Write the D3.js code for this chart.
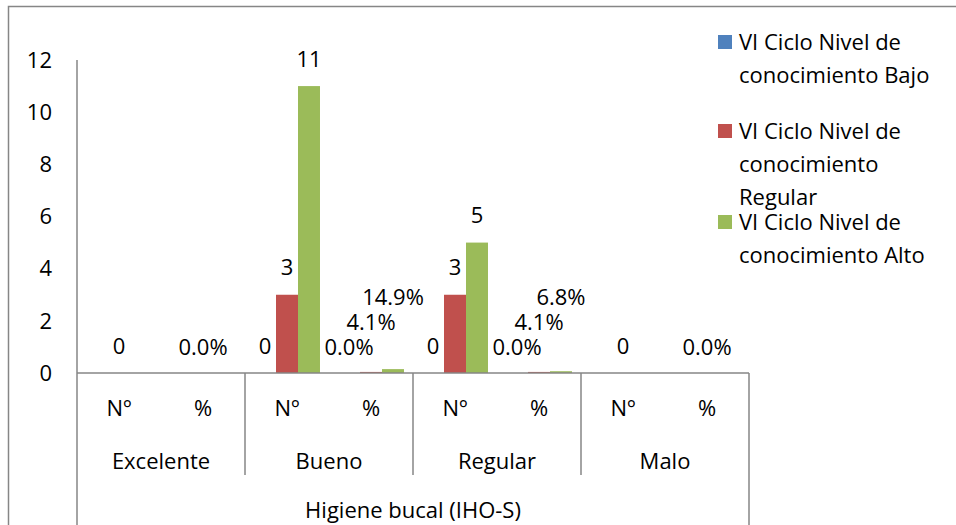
<!DOCTYPE html>
<html>
<head>
<meta charset="utf-8">
<script src="https://cdn.jsdelivr.net/npm/d3@7"></script>
<style>
  body { margin: 0; background: #fff; }
  svg { display: block; font-family: "Open Sans", sans-serif; }
</style>
</head>
<body>
<div id="chart"></div>
<script>
// chart values
const groups = ["Excelente", "Bueno", "Regular", "Malo"];
const subcats = ["Nº", "%"];
const outerLabel = "Higiene bucal (IHO-S)";
const seriesNames = [
  "VI Ciclo Nivel de conocimiento Bajo",
  "VI Ciclo Nivel de conocimiento Regular",
  "VI Ciclo Nivel de conocimiento Alto"
];
const bajo    = [null, null, 0, 0,     0, 0,     null, null];
const regular = [0,    0,    3, 0.041, 3, 0.041, 0,    0];
const alto    = [null, null, 11, 0.149, 5, 0.068, null, null];
const yTicks = [0, 2, 4, 6, 8, 10, 12];
const colors = ["#4F81BD", "#C0504D", "#9BBB59"];

function drawChart() {
  const width = 956, height = 525;
  const left = 77, right = 749, top = 60, base = 373;

  const svg = d3.select("div#chart")
    .append("svg")
    .attr("width", width)
    .attr("height", height)
    .style("font-size", "22px");

  // outer chart border
  svg.append("path")
    .attr("d", `M8.5,${height} V6.5 H${width}`)
    .attr("fill", "none")
    .attr("stroke", "#868686")
    .attr("stroke-width", 1.5);

  const cats = [];
  groups.forEach(g => subcats.forEach(s => cats.push(g + "|" + s)));
  const series = [bajo, regular, alto];

  const x0 = d3.scaleBand().domain(cats).range([left, right]);
  const x1 = d3.scaleBand().domain(d3.range(series.length))
    .range([0, x0.bandwidth()]).paddingOuter(0.41);
  const y = d3.scaleLinear().domain([0, 12]).range([base, top]);

  // y axis labels
  svg.append("g")
    .selectAll("text")
    .data(yTicks)
    .join("text")
    .attr("x", left - 25)
    .attr("y", d => y(d))
    .attr("dy", "0.35em")
    .attr("text-anchor", "end")
    .attr("fill", "#000")
    .text(d => d);

  svg.append("line")
    .attr("x1", left).attr("x2", left)
    .attr("y1", top).attr("y2", height)
    .attr("stroke", "#868686").attr("stroke-width", 1.5);

  // bars
  const cell = [];
  series.forEach((vals, i) => vals.forEach((v, j) => {
    if (v === null) return;
    const present = series.map((s, k) => s[j] !== null ? k : -1).filter(k => k >= 0);
    cell.push({ i, cat: cats[j], pct: j % 2 === 1, v, rank: present.indexOf(i), single: present.length === 1 });
  }));

  svg.append("g")
    .selectAll("rect")
    .data(cell)
    .join("rect")
    .attr("x", d => x0(d.cat) + x1(d.i))
    .attr("width", x1.bandwidth())
    .attr("y", d => y(d.v))
    .attr("height", d => base - y(d.v))
    .attr("fill", d => colors[d.i]);

  // value labels, percent labels are stacked to avoid overlap
  const fmtN = d3.format("d"), fmtP = d3.format(".1%");
  svg.append("g")
    .selectAll("text")
    .data(cell)
    .join("text")
    .attr("x", d => d.single ? x0(d.cat) + x0.bandwidth() / 2 : x0(d.cat) + x1(d.i) + x1.bandwidth() / 2)
    .attr("y", d => d.pct ? base - 26 - d.rank * 25 : y(d.v) - 27)
    .attr("dy", "0.35em")
    .attr("text-anchor", "middle")
    .text(d => d.pct ? fmtP(d.v) : fmtN(d.v));

  // x axis
  const axis = svg.append("g")
    .attr("stroke", "#868686").attr("stroke-width", 1.5);
  axis.append("line")
    .attr("x1", left).attr("x2", right)
    .attr("y1", base).attr("y2", base);
  axis.append("line")
    .attr("x1", right).attr("x2", right)
    .attr("y1", base).attr("y2", height);
  axis.selectAll("line.sep")
    .data(groups.slice(1))
    .join("line")
    .attr("class", "sep")
    .attr("x1", g => x0(g + "|" + subcats[0]))
    .attr("x2", g => x0(g + "|" + subcats[0]))
    .attr("y1", base).attr("y2", 475);

  svg.append("g")
    .selectAll("text")
    .data(cats)
    .join("text")
    .attr("x", d => x0(d) + x0.bandwidth() / 2)
    .attr("y", 408)
    .attr("dy", "0.35em")
    .attr("text-anchor", "middle")
    .text(d => d.split("|")[1]);

  svg.append("g")
    .selectAll("text")
    .data(groups)
    .join("text")
    .attr("x", g => x0(g + "|" + subcats[0]) + x0.bandwidth())
    .attr("y", 461)
    .attr("dy", "0.35em")
    .attr("text-anchor", "middle")
    .text(g => g);

  svg.append("text")
    .attr("x", (left + right) / 2)
    .attr("y", 510)
    .attr("dy", "0.35em")
    .attr("text-anchor", "middle")
    .text(outerLabel);

  // legend
  const legendLines = [
    ["VI Ciclo Nivel de", "conocimiento Bajo"],
    ["VI Ciclo Nivel de", "conocimiento", "Regular"],
    ["VI Ciclo Nivel de", "conocimiento Alto"]
  ];
  const legendY = [42, 131, 222];
  const lg = svg.append("g").selectAll("g")
    .data(seriesNames)
    .join("g")
    .attr("transform", (d, i) => `translate(718,${legendY[i]})`);
  lg.append("rect")
    .attr("x", 0).attr("y", -7)
    .attr("width", 14).attr("height", 14)
    .attr("fill", (d, i) => colors[i]);
  lg.append("text")
    .attr("x", 21)
    .selectAll("tspan")
    .data((d, i) => legendLines[i])
    .join("tspan")
    .attr("x", 21)
    .attr("y", (t, k) => k * 33)
    .attr("dy", "0.35em")
    .text(t => t);
}

drawChart();
</script>
</body>
</html>
